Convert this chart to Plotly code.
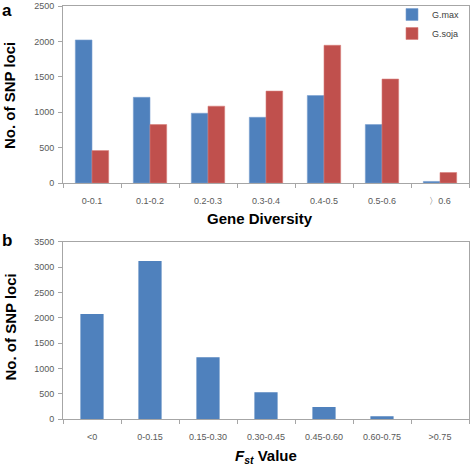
import plotly.graph_objects as go

# ---- data ----
gd_categories = ["0-0.1", "0.1-0.2", "0.2-0.3", "0.3-0.4", "0.4-0.5", "0.5-0.6", "〉0.6"]
gmax_counts = [2020, 1210, 985, 928, 1235, 825, 22]
gsoja_counts = [458, 825, 1085, 1298, 1945, 1468, 148]

fst_categories = ["<0", "0-0.15", "0.15-0.30", "0.30-0.45", "0.45-0.60", "0.60-0.75", ">0.75"]
fst_counts = [2077, 3120, 1225, 532, 243, 58, 0]

a_yticks = [0, 500, 1000, 1500, 2000, 2500]
b_yticks = [0, 500, 1000, 1500, 2000, 2500, 3000, 3500]

W, H = 472, 468
BLUE = "#4F81BD"
RED = "#C0504D"
LINE = "#A6A6A6"
TICKFONT = dict(family="Liberation Sans, Arial, sans-serif", size=9, color="#595959")
TITLEFONT = dict(family="Liberation Sans, Arial, sans-serif", size=15, color="#000000")

def px_x(x):
    return x / W

def px_y(y):
    return 1 - y / H

fig = go.Figure()
fig.add_trace(go.Bar(x=gd_categories, y=gmax_counts, name="G.max",
                     marker=dict(color=BLUE, line=dict(color="#7A9FD0", width=0.6)),
                     xaxis="x", yaxis="y", legendgroup="a1"))
fig.add_trace(go.Bar(x=gd_categories, y=gsoja_counts, name="G.soja",
                     marker=dict(color=RED, line=dict(color="#D67E7B", width=0.6)),
                     xaxis="x", yaxis="y", legendgroup="a2"))
fig.add_trace(go.Bar(x=fst_categories, y=fst_counts, name="Fst",
                     marker=dict(color=BLUE, line=dict(width=0)),
                     width=0.4, xaxis="x2", yaxis="y2", showlegend=False))

xdom = [px_x(63), px_x(469)]
common_x = dict(domain=xdom, type="category", showline=True, mirror=True, linecolor=LINE,
                linewidth=1, ticks="outside", tickson="boundaries", ticklen=4, tickcolor=LINE,
                tickfont=TICKFONT, showgrid=False, zeroline=False, ticklabelstandoff=9)
common_y = dict(showline=True, mirror=True, linecolor=LINE, linewidth=1, ticks="outside",
                ticklen=4, tickcolor=LINE, tickfont=TICKFONT, showgrid=False, zeroline=False,
                ticklabelstandoff=2)

fig.update_layout(
    width=W, height=H, autosize=False,
    margin=dict(l=0, r=0, t=0, b=0, autoexpand=False),
    paper_bgcolor="white", plot_bgcolor="white",
    barmode="group", bargap=0.425, bargroupgap=0,
    xaxis=dict(common_x, anchor="y", categoryorder="array", categoryarray=gd_categories),
    yaxis=dict(common_y, domain=[px_y(183), px_y(6)], anchor="x", range=[0, 2500],
               tickvals=a_yticks),
    xaxis2=dict(common_x, anchor="y2", categoryorder="array", categoryarray=fst_categories),
    yaxis2=dict(common_y, domain=[px_y(419.3), px_y(241.7)], anchor="x2", range=[0, 3500],
                tickvals=b_yticks),
    legend=dict(x=px_x(392), y=px_y(0), xanchor="left", yanchor="top",
                font=dict(family="Liberation Sans, Arial, sans-serif", size=9, color="#404040"),
                bgcolor="rgba(0,0,0,0)", tracegroupgap=0, itemwidth=30),
    showlegend=True,
)

annotations = [
    dict(text="<b>a</b>", x=px_x(0), y=px_y(10), xanchor="left", yanchor="middle",
         font=dict(TITLEFONT, size=17)),
    dict(text="<b>b</b>", x=px_x(0), y=px_y(241), xanchor="left", yanchor="middle",
         font=dict(TITLEFONT, size=17)),
    dict(text="<b>No. of SNP loci</b>", x=px_x(10), y=px_y(96), textangle=-90,
         xanchor="center", yanchor="middle", font=TITLEFONT),
    dict(text="<b>No. of SNP loci</b>", x=px_x(10), y=px_y(327.5), textangle=-90,
         xanchor="center", yanchor="middle", font=TITLEFONT),
    dict(text="<b>Gene Diversity</b>", x=px_x(260), y=px_y(218), xanchor="center",
         yanchor="middle", font=TITLEFONT),
    dict(text="<b><i>F<sub>st</sub></i> Value</b>", x=px_x(266), y=px_y(456), xanchor="center",
         yanchor="middle", font=TITLEFONT),
]
for a in annotations:
    a.update(xref="paper", yref="paper", showarrow=False)
fig.update_layout(annotations=annotations)

fig.write_html("out.html", config={"displayModeBar": False},
               post_script="document.body.style.margin='0';")
